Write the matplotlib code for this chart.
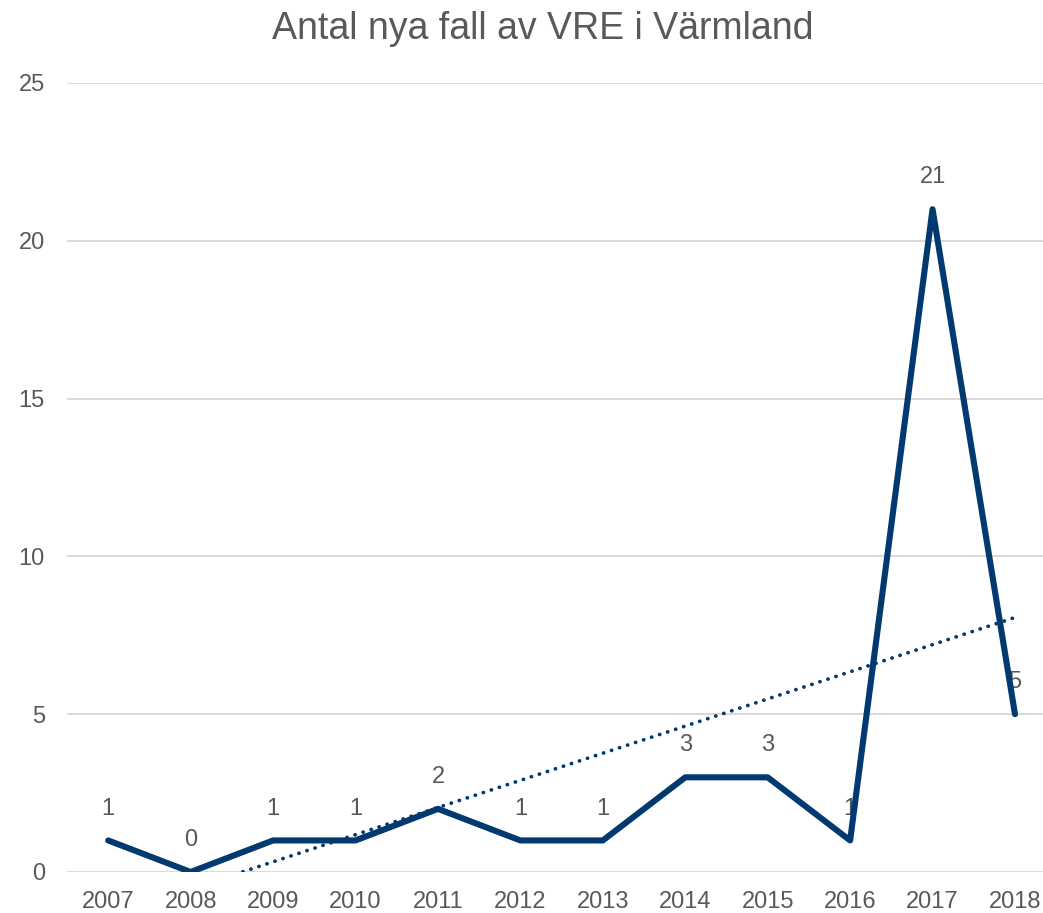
import matplotlib.pyplot as plt
import numpy as np

# data
years = ['2007', '2008', '2009', '2010', '2011', '2012',
         '2013', '2014', '2015', '2016', '2017', '2018']
cases = [1, 0, 1, 1, 2, 1, 1, 3, 3, 1, 21, 5]
y_ticks = [0, 5, 10, 15, 20, 25]

TITLE = 'Antal nya fall av VRE i Värmland'
LINE_COL = '#023A70'
TEXT_COL = '#595959'
GRID_COL = '#D9D9D9'

plt.rcParams['font.family'] = ['Liberation Sans', 'DejaVu Sans']

fig = plt.figure(figsize=(10.43, 9.13), dpi=100)
ax = fig.add_axes([67 / 1043, 1 - 872 / 913, 1 - 67 / 1043, (872 - 83) / 913])

x = np.arange(len(years))

# grid
for v in y_ticks:
    ax.axhline(v, color=GRID_COL, linewidth=1.4, zorder=0)

# linear trend line (as Excel's trendline)
k, m = np.polyfit(x, cases, 1)
xt = np.array([x[0], x[-1]])
ax.plot(xt, k * xt + m, color=LINE_COL, linewidth=2.7,
        linestyle=(0, (0.05, 2.2)), dash_capstyle='round', zorder=2)

ax.plot(x, cases, color=LINE_COL, linewidth=4.4,
        solid_joinstyle='round', solid_capstyle='round', zorder=3)

# data labels
for xi, v in zip(x, cases):
    ax.annotate(str(v), (xi, v), xytext=(0, 15), textcoords='offset points',
                ha='center', va='bottom', fontsize=17, color=TEXT_COL, zorder=1)

ax.set_xlim(-0.5, 11 + (1043 - 1015) / 82.4)
ax.set_ylim(0, 25)
ax.set_xticks(x)
ax.set_xticklabels(years)
ax.set_yticks(y_ticks)
ax.tick_params(axis='both', length=0, labelsize=17, labelcolor=TEXT_COL)
ax.tick_params(axis='x', pad=14)
ax.tick_params(axis='y', pad=16)
for s in ax.spines.values():
    s.set_visible(False)

fig.text(0.52, 1 - 29 / 913, TITLE, ha='center', va='center',
         fontsize=27, color=TEXT_COL)

fig.savefig('out.png', dpi=100)
